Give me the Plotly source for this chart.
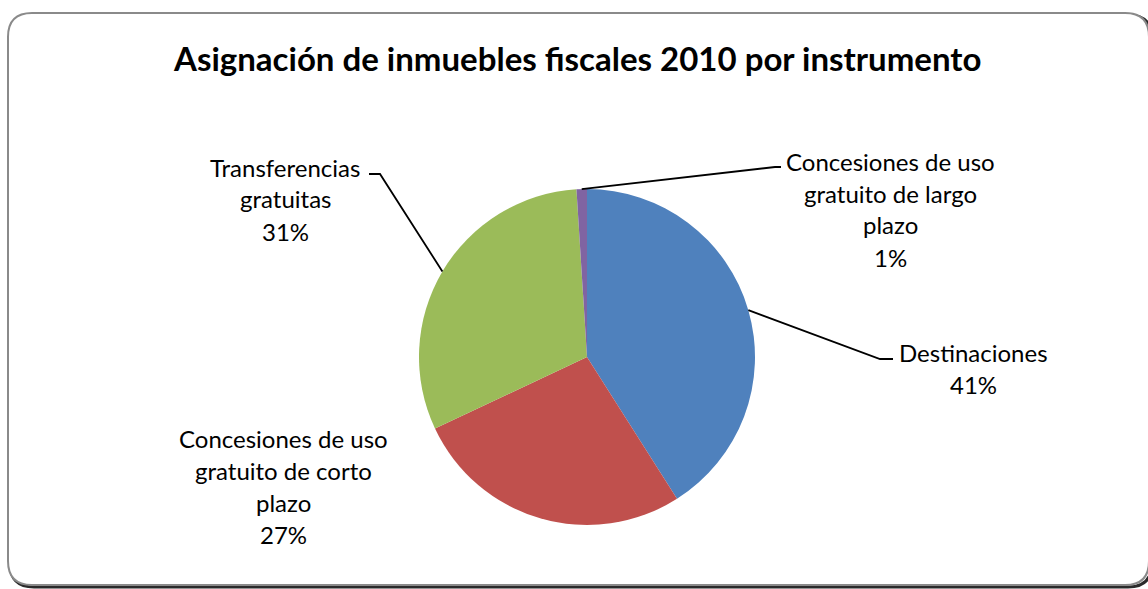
import numpy as np
import plotly.graph_objects as go

# === Data ===
categorias = ["Destinaciones",
              "Concesiones de uso|gratuito de corto|plazo",
              "Transferencias|gratuitas",
              "Concesiones de uso|gratuito de largo|plazo"]
valores = [41, 27, 31, 1]
colores = ["#4F81BD", "#C0504D", "#9BBB59", "#8064A2"]
titulo = "Asignación de inmuebles fiscales 2010 por instrumento"

# === Geometry (screen pixels) ===
W, H = 1148, 589
cx, cy, R = 587, 357, 168
FONT = "Lato, Open Sans, sans-serif"

def px(x):
    return x / W

def py(y):
    return 1 - y / H

fig = go.Figure()
fig.add_trace(go.Pie(
    labels=[c.replace("|", " ") for c in categorias], values=valores,
    marker=dict(colors=colores, line=dict(width=0)),
    sort=False, direction="clockwise", rotation=0,
    textinfo="none", hoverinfo="label+percent",
    domain=dict(x=[px(cx - R), px(cx + R)], y=[py(cy + R), py(cy - R)]),
))

# label placement: (center x, first line y, leader elbow point or None)
etiquetas = [
    (973, 352, (880, 359, 893)),
    (283, 438, None),
    (285, 167, (380, 174, 369)),
    (890, 161, (775, 167, 781)),
]
LINE = 32

total = sum(valores)
acum = np.cumsum([0] + valores)
shapes = []
annotations = []
for i, (cat, v) in enumerate(zip(categorias, valores)):
    lx, ly, elbow = etiquetas[i]
    lines = cat.split("|") + [f"{round(v / total * 100)}%"]
    for k, t in enumerate(lines):
        annotations.append(dict(
            x=px(lx), y=py(ly + k * LINE), xref="paper", yref="paper",
            text=t, showarrow=False, xanchor="center", yanchor="middle",
            font=dict(family=FONT, size=24, color="#000000")))
    if elbow:
        mid = (acum[i] + v / 2) / total * 2 * np.pi
        x0, y0 = cx + R * np.sin(mid), cy - R * np.cos(mid)
        ex, ey, hx = elbow
        shapes.append(dict(type="path", xref="paper", yref="paper",
                           path=f"M {px(x0)},{py(y0)} L {px(ex)},{py(ey)} L {px(hx)},{py(ey)}",
                           line=dict(color="#000000", width=1.8)))

# rounded chart border with shadow
def rounded(x0, y0, x1, y1, r):
    return (f"M {px(x0 + r)},{py(y0)} L {px(x1 - r)},{py(y0)} "
            f"Q {px(x1)},{py(y0)} {px(x1)},{py(y0 + r)} L {px(x1)},{py(y1 - r)} "
            f"Q {px(x1)},{py(y1)} {px(x1 - r)},{py(y1)} L {px(x0 + r)},{py(y1)} "
            f"Q {px(x0)},{py(y1)} {px(x0)},{py(y1 - r)} L {px(x0)},{py(y0 + r)} "
            f"Q {px(x0)},{py(y0)} {px(x0 + r)},{py(y0)} Z")

shapes.insert(0, dict(type="path", xref="paper", yref="paper", layer="below",
                      path=rounded(10, 15, 1152, 587, 24),
                      line=dict(color="#2a2a2a", width=3), fillcolor="rgba(0,0,0,0)"))
shapes.insert(1, dict(type="path", xref="paper", yref="paper", layer="below",
                      path=rounded(8, 13, 1149, 585, 24),
                      line=dict(color="#8a8a8a", width=2), fillcolor="#ffffff"))

annotations.append(dict(x=px(577), y=py(58), xref="paper", yref="paper",
                        text=f"<b>{titulo}</b>", showarrow=False,
                        xanchor="center", yanchor="middle",
                        font=dict(family=FONT, size=33, color="#000000")))

fig.update_layout(
    width=W, height=H,
    margin=dict(l=0, r=0, t=0, b=0),
    paper_bgcolor="#ffffff", plot_bgcolor="#ffffff",
    showlegend=False,
    shapes=shapes, annotations=annotations,
)

# drop the default 8px page margin so the figure fills the window
fig.write_html("out.html", config={"displayModeBar": False},
               post_script="document.body.style.margin='0';")
